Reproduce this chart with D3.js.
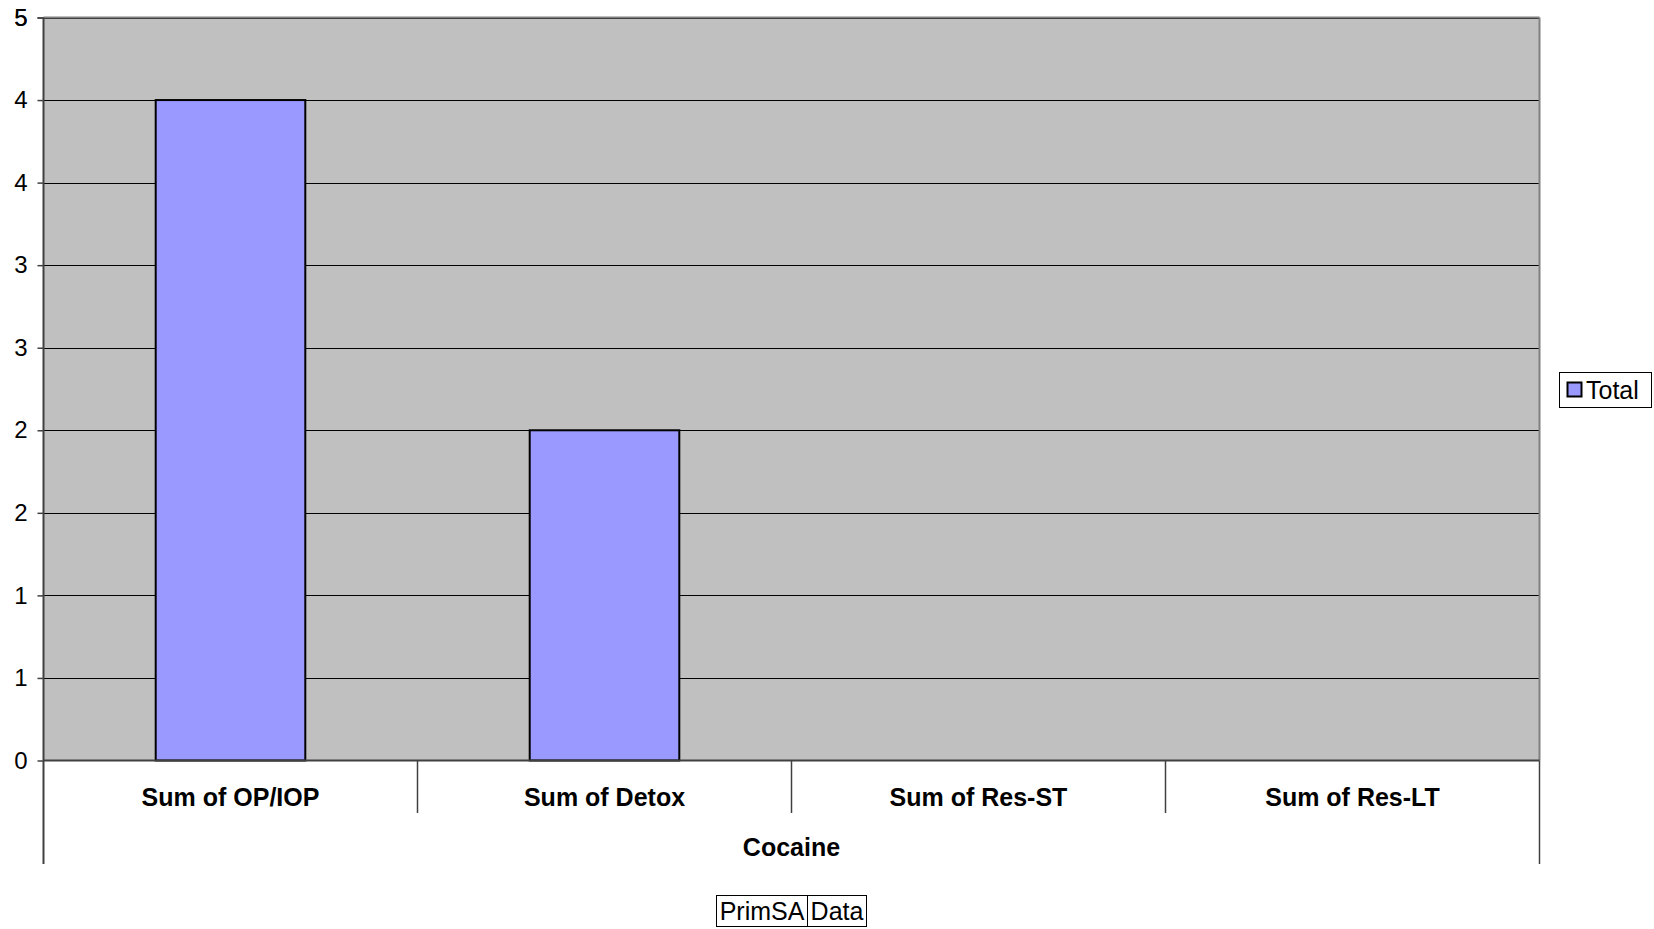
<!DOCTYPE html>
<html><head><meta charset="utf-8">
<script src="https://cdn.jsdelivr.net/npm/d3@7"></script>
<style>body{margin:0;background:#fff}svg{display:block}text{font-family:"Liberation Sans",Arial,sans-serif}</style>
</head><body>
<script>
const categories = ["Sum of OP/IOP", "Sum of Detox", "Sum of Res-ST", "Sum of Res-LT"];
const values = [4, 2, 0, 0];
const groupLabel = "Cocaine";
const seriesName = "Total";
const yTicks = [0, 0.5, 1, 1.5, 2, 2.5, 3, 3.5, 4, 4.5];
const yMax = 4.5;
const pageFields = ["PrimSA", "Data"];

const W = 1654, H = 929;
const m = {left: 43.5, right: 1539.5, top: 17.5, bottom: 760.5};
const svg = d3.select("body").append("svg").attr("width", W).attr("height", H);

const x = d3.scaleBand().domain(categories).range([m.left, m.right]).paddingInner(0).paddingOuter(0);
const y = d3.scaleLinear().domain([0, yMax]).range([m.bottom, m.top]);

svg.append("rect").attr("x", m.left).attr("y", m.top).attr("width", m.right - m.left).attr("height", m.bottom - m.top).attr("fill", "#C0C0C0");

// gridlines
svg.append("g").selectAll("line").data(yTicks.filter(d => d > 0)).join("line")
  .attr("x1", m.left).attr("x2", m.right).attr("y1", d => Math.round(y(d)) + 0.5).attr("y2", d => Math.round(y(d)) + 0.5)
  .attr("stroke", "#000").attr("stroke-width", 1);
svg.append("line").attr("x1", m.left).attr("x2", m.right).attr("y1", m.top).attr("y2", m.top).attr("stroke", "#808080").attr("stroke-width", 2);

// right border
svg.append("line").attr("x1", m.right).attr("x2", m.right).attr("y1", m.top).attr("y2", m.bottom).attr("stroke", "#808080").attr("stroke-width", 2);

// bars
const bw = x.bandwidth() * 0.4;
svg.append("g").selectAll("rect").data(categories.map((c, i) => ({c, v: values[i]})).filter(d => d.v > 0)).join("rect")
  .attr("x", d => x(d.c) + (x.bandwidth() - bw) / 2)
  .attr("y", d => y(d.v))
  .attr("width", bw)
  .attr("height", d => y(0) - y(d.v))
  .attr("fill", "#9999FF").attr("stroke", "#000").attr("stroke-width", 2);

// y axis
const yAxis = d3.axisLeft(y).tickValues(yTicks.concat([yMax])).tickSize(6).tickPadding(10)
  .tickFormat(d => String(Math.round(d + 1e-9)));
const ya = svg.append("g").attr("transform", `translate(${m.left},0)`).call(yAxis);
ya.select(".domain").remove();
ya.selectAll(".tick line").attr("stroke", "#404040").attr("stroke-width", 1.5);
ya.selectAll(".tick text").attr("font-size", 24).attr("fill", "#000");
svg.append("line").attr("x1", m.left).attr("x2", m.left).attr("y1", m.top).attr("y2", 864).attr("stroke", "#404040").attr("stroke-width", 2);

// x axis line
svg.append("line").attr("x1", m.left).attr("x2", m.right).attr("y1", m.bottom).attr("y2", m.bottom).attr("stroke", "#404040").attr("stroke-width", 2);

// category separators
svg.append("g").selectAll("line").data(categories.slice(1)).join("line")
  .attr("x1", d => x(d)).attr("x2", d => x(d)).attr("y1", m.bottom).attr("y2", 813)
  .attr("stroke", "#404040").attr("stroke-width", 1.5);
svg.append("line").attr("x1", m.right).attr("x2", m.right).attr("y1", m.bottom).attr("y2", 864).attr("stroke", "#404040").attr("stroke-width", 1.5);

svg.append("g").selectAll("text").data(categories).join("text")
  .attr("x", d => x(d) + x.bandwidth() / 2).attr("y", 806)
  .attr("text-anchor", "middle").attr("font-size", 25).attr("font-weight", "bold").text(d => d);

svg.append("text").attr("x", (m.left + m.right) / 2).attr("y", 856).attr("text-anchor", "middle")
  .attr("font-size", 25).attr("font-weight", "bold").text(groupLabel);

// legend
const lg = svg.append("g");
lg.append("rect").attr("x", 1559.5).attr("y", 372.5).attr("width", 92).attr("height", 35).attr("fill", "#fff").attr("stroke", "#000").attr("stroke-width", 1);
lg.append("rect").attr("x", 1567.5).attr("y", 382.5).attr("width", 14).attr("height", 14).attr("fill", "#9999FF").attr("stroke", "#000").attr("stroke-width", 2);
lg.append("text").attr("x", 1586).attr("y", 399).attr("font-size", 25).text(seriesName);

// page field buttons
const pf = svg.append("g");
const pfX = [716, 807, 866];
pageFields.forEach((t, i) => {
  pf.append("rect").attr("x", pfX[i] + 0.5).attr("y", 895.5).attr("width", pfX[i + 1] - pfX[i]).attr("height", 31).attr("fill", "#fff").attr("stroke", "#000").attr("stroke-width", 1);
  pf.append("text").attr("x", (pfX[i] + pfX[i + 1]) / 2 + 0.5).attr("y", 920).attr("text-anchor", "middle").attr("font-size", 25).text(t);
});
</script>
</body></html>
